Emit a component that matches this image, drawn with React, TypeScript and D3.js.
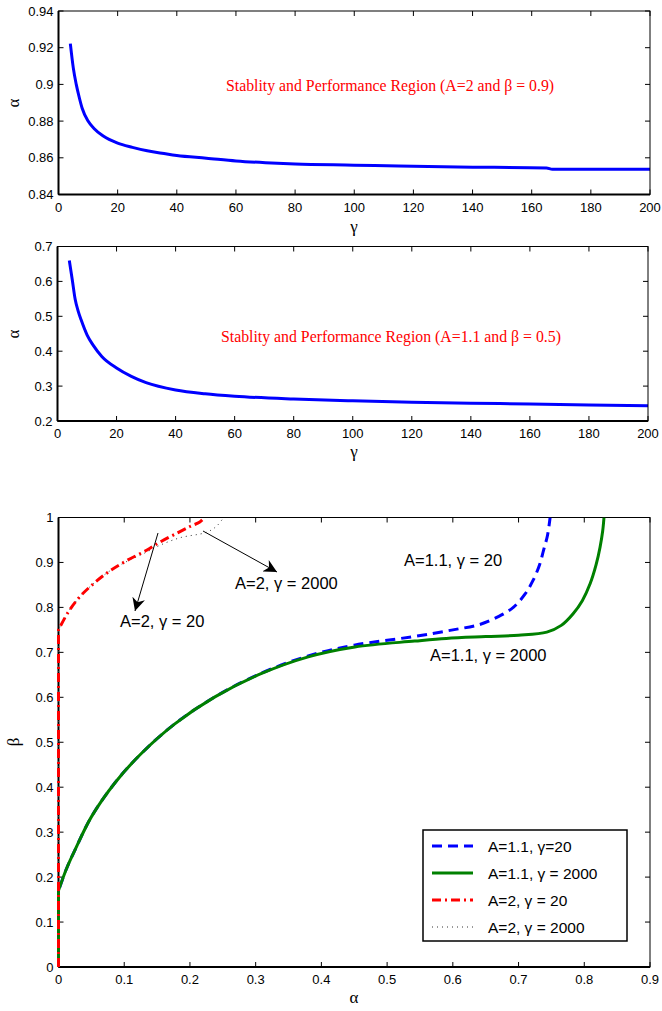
import React from "react";
import * as d3 from "d3";

// ---------- data ----------
const gammaTop: number[] = [4, 5, 6, 7, 8, 10, 12, 15, 20, 25, 30, 35, 40, 50, 60, 70, 80, 100, 115, 135, 165, 167, 200];
const alphaTop: number[] = [0.9222, 0.909, 0.9, 0.893, 0.887, 0.88, 0.876, 0.872, 0.868, 0.8657, 0.8638, 0.8625, 0.8612, 0.8598, 0.8583, 0.8573, 0.8566, 0.856, 0.8555, 0.855, 0.8545, 0.8537, 0.8537];

const gammaMid: number[] = [4, 5, 6, 7, 8, 10, 12, 15, 20, 25, 30, 40, 50, 60, 80, 100, 120, 140, 160, 180, 200];
const alphaMid: number[] = [0.66, 0.605, 0.548, 0.515, 0.49, 0.447, 0.418, 0.385, 0.352, 0.328, 0.31, 0.289, 0.278, 0.271, 0.263, 0.258, 0.254, 0.251, 0.249, 0.246, 0.244];

const a11g20Alpha: number[] = [0, 0, 0.012, 0.025, 0.05, 0.086, 0.126, 0.177, 0.238, 0.309, 0.38, 0.45, 0.54, 0.6, 0.641, 0.67, 0.692, 0.71, 0.722, 0.732, 0.738, 0.744, 0.748];
const a11g20Beta: number[] = [0, 0.17, 0.218, 0.26, 0.334, 0.41, 0.475, 0.541, 0.601, 0.654, 0.692, 0.716, 0.735, 0.75, 0.762, 0.78, 0.8, 0.83, 0.86, 0.895, 0.927, 0.96, 1.0];

const a11g2000Alpha: number[] = [0, 0, 0.012, 0.025, 0.05, 0.086, 0.126, 0.177, 0.238, 0.309, 0.38, 0.451, 0.542, 0.59, 0.65, 0.7, 0.743, 0.765, 0.783, 0.797, 0.809, 0.818, 0.824, 0.828, 0.83];
const a11g2000Beta: number[] = [0, 0.17, 0.218, 0.26, 0.334, 0.41, 0.475, 0.541, 0.601, 0.653, 0.69, 0.712, 0.725, 0.731, 0.735, 0.738, 0.745, 0.76, 0.786, 0.815, 0.853, 0.895, 0.934, 0.97, 1.0];

const a2g20Alpha: number[] = [0, 0, 0.015, 0.032, 0.055, 0.078, 0.105, 0.134, 0.154, 0.18, 0.2, 0.215, 0.222];
const a2g20Beta: number[] = [0, 0.75, 0.79, 0.823, 0.855, 0.881, 0.905, 0.927, 0.945, 0.965, 0.98, 0.99, 1.0];

const a2g2000Alpha: number[] = [0, 0, 0.015, 0.032, 0.055, 0.078, 0.105, 0.134, 0.154, 0.185, 0.225, 0.24, 0.25, 0.252];
const a2g2000Beta: number[] = [0, 0.75, 0.79, 0.823, 0.855, 0.881, 0.903, 0.923, 0.938, 0.955, 0.967, 0.98, 0.997, 1.0];

const gammaTicks: number[] = [0, 20, 40, 60, 80, 100, 120, 140, 160, 180, 200];
const topYTicks: number[] = [0.84, 0.86, 0.88, 0.9, 0.92, 0.94];
const midYTicks: number[] = [0.2, 0.3, 0.4, 0.5, 0.6, 0.7];
const botXTicks: number[] = [0, 0.1, 0.2, 0.3, 0.4, 0.5, 0.6, 0.7, 0.8, 0.9];
const botYTicks: number[] = [0, 0.1, 0.2, 0.3, 0.4, 0.5, 0.6, 0.7, 0.8, 0.9, 1];

const legendLabels: string[] = ["A=1.1, γ=20", "A=1.1, γ = 2000", "A=2, γ = 20", "A=2, γ = 2000"];

const SANS = "'Liberation Sans', Arial, Helvetica, sans-serif";
const SERIF = "'Liberation Serif', 'Times New Roman', serif";

const fmt = (v: number) => String(+v.toFixed(2));

type Box = { x0: number; x1: number; y0: number; y1: number };

function Axes({ box, xs, ys, xTicks, yTicks, id }: { box: Box; xs: d3.ScaleLinear<number, number>; ys: d3.ScaleLinear<number, number>; xTicks: number[]; yTicks: number[]; id: string }) {
  const tl = 5;
  return (
    <g>
      <rect x={box.x0} y={box.y0} width={box.x1 - box.x0} height={box.y1 - box.y0} fill="none" stroke="#000" strokeWidth={1} />
      <line x1={box.x0} x2={box.x1} y1={box.y1} y2={box.y1} stroke="#000" strokeWidth={2} />
      <line x1={box.x0} x2={box.x0} y1={box.y0} y2={box.y1} stroke="#000" strokeWidth={2} />
      {xTicks.map((t) => (
        <g key={id + "x" + t}>
          <line x1={xs(t)} x2={xs(t)} y1={box.y1} y2={box.y1 - tl} stroke="#000" />
          <line x1={xs(t)} x2={xs(t)} y1={box.y0} y2={box.y0 + tl} stroke="#000" />
          <text x={xs(t)} y={box.y1 + 17} textAnchor="middle" fontFamily={SANS} fontSize={13}>{fmt(t)}</text>
        </g>
      ))}
      {yTicks.map((t) => (
        <g key={id + "y" + t}>
          <line x1={box.x0} x2={box.x0 + tl} y1={ys(t)} y2={ys(t)} stroke="#000" />
          <line x1={box.x1} x2={box.x1 - tl} y1={ys(t)} y2={ys(t)} stroke="#000" />
          <text x={box.x0 - 5} y={ys(t) + 4.5} textAnchor="end" fontFamily={SANS} fontSize={13}>{fmt(t)}</text>
        </g>
      ))}
    </g>
  );
}

export default function App() {
  const topBox: Box = { x0: 58.5, x1: 650, y0: 11, y1: 194.5 };
  const midBox: Box = { x0: 57.5, x1: 648, y0: 246.5, y1: 421 };
  const botBox: Box = { x0: 58.5, x1: 650, y0: 517.5, y1: 967 };

  const xTop = d3.scaleLinear().domain([0, 200]).range([topBox.x0, topBox.x1]);
  const yTop = d3.scaleLinear().domain([0.84, 0.94]).range([topBox.y1, topBox.y0]);
  const xMid = d3.scaleLinear().domain([0, 200]).range([midBox.x0, midBox.x1]);
  const yMid = d3.scaleLinear().domain([0.2, 0.7]).range([midBox.y1, midBox.y0]);
  const xBot = d3.scaleLinear().domain([0, 0.9]).range([botBox.x0, botBox.x1]);
  const yBot = d3.scaleLinear().domain([0, 1]).range([botBox.y1, botBox.y0]);

  const lineTop = d3.line<number>().x((_, i) => xTop(gammaTop[i])).y((d) => yTop(d)).curve(d3.curveMonotoneX);
  const lineMid = d3.line<number>().x((_, i) => xMid(gammaMid[i])).y((d) => yMid(d)).curve(d3.curveMonotoneX);
  // vertical segment along alpha = 0 (linear), then the smooth curve part
  const botLine = (xsArr: number[], ysArr: number[]) => {
    const pts: [number, number][] = xsArr.map((a, i) => [xBot(a), yBot(ysArr[i])]);
    const straight = d3.line().curve(d3.curveLinear)(pts.slice(0, 2)) || "";
    const curved = d3.line().curve(d3.curveCatmullRom.alpha(0.5))(pts.slice(1)) || "";
    return straight + curved.replace(/^M[^LC]*/, "");
  };

  const series = [
    { xa: a11g20Alpha, ya: a11g20Beta, color: "#0000ff", w: 3, dash: "10,6" },
    { xa: a11g2000Alpha, ya: a11g2000Beta, color: "#008000", w: 3, dash: "" },
    { xa: a2g20Alpha, ya: a2g20Beta, color: "#ff0000", w: 3, dash: "9,4,2,4" },
    { xa: a2g2000Alpha, ya: a2g2000Beta, color: "#333333", w: 1, dash: "1,4" },
  ];
  const drawOrder = [0, 1, 3, 2];

  return (
    <svg width={662} height={1011} style={{ position: "absolute", left: 0, top: 0, background: "#fff" }}>
      <defs>
        <clipPath id="cTop"><rect x={topBox.x0} y={topBox.y0} width={topBox.x1 - topBox.x0} height={topBox.y1 - topBox.y0} /></clipPath>
        <clipPath id="cMid"><rect x={midBox.x0} y={midBox.y0} width={midBox.x1 - midBox.x0} height={midBox.y1 - midBox.y0} /></clipPath>
        <clipPath id="cBot"><rect x={botBox.x0 - 3} y={botBox.y0} width={botBox.x1 - botBox.x0 + 3} height={botBox.y1 - botBox.y0} /></clipPath>
        <marker id="arr" viewBox="0 0 10 10" refX="10" refY="5" markerWidth="13" markerHeight="13" markerUnits="userSpaceOnUse" orient="auto">
          <path d="M0,0 L10,5 L0,10 L3,5 Z" fill="#000" />
        </marker>
      </defs>
      <rect x={0} y={0} width={662} height={1011} fill="#fff" />

      {/* Top panel */}
      <path d={lineTop(alphaTop) || ""} fill="none" stroke="#0000ff" strokeWidth={3} clipPath="url(#cTop)" />
      <Axes box={topBox} xs={xTop} ys={yTop} xTicks={gammaTicks} yTicks={topYTicks} id="t" />
      <text x={226} y={91} fontFamily={SERIF} fontSize={15.8} fill="#ff0000">Stablity and Performance Region (A=2 and β = 0.9)</text>
      <text x={354} y={232} textAnchor="middle" fontFamily={SERIF} fontSize={17}>γ</text>
      <text transform="translate(19,103) rotate(-90)" textAnchor="middle" fontFamily={SERIF} fontSize={17}>α</text>

      {/* Middle panel */}
      <path d={lineMid(alphaMid) || ""} fill="none" stroke="#0000ff" strokeWidth={3} clipPath="url(#cMid)" />
      <Axes box={midBox} xs={xMid} ys={yMid} xTicks={gammaTicks} yTicks={midYTicks} id="m" />
      <text x={221} y={342} fontFamily={SERIF} fontSize={15.8} fill="#ff0000">Stablity and Performance Region (A=1.1 and β = 0.5)</text>
      <text x={354} y={457} textAnchor="middle" fontFamily={SERIF} fontSize={17}>γ</text>
      <text transform="translate(19,334) rotate(-90)" textAnchor="middle" fontFamily={SERIF} fontSize={17}>α</text>

      {/* Bottom panel */}
      <Axes box={botBox} xs={xBot} ys={yBot} xTicks={botXTicks} yTicks={botYTicks} id="b" />
      <g clipPath="url(#cBot)">
        {drawOrder.map((k) => {
          const s = series[k];
          return <path key={"s" + k} d={botLine(s.xa, s.ya)} fill="none" stroke={s.color} strokeWidth={s.w} strokeDasharray={s.dash || undefined} />;
        })}
      </g>
      <text x={354} y={1003} textAnchor="middle" fontFamily={SERIF} fontSize={17}>α</text>
      <text transform="translate(19,742) rotate(-90)" textAnchor="middle" fontFamily={SERIF} fontSize={17}>β</text>

      {/* annotations */}
      <line x1={158} y1={533} x2={135} y2={611} stroke="#000" strokeWidth={1} markerEnd="url(#arr)" />
      <line x1={203} y1={531} x2={277} y2={572} stroke="#000" strokeWidth={1} markerEnd="url(#arr)" />
      <text x={120} y={627} fontFamily={SANS} fontSize={16.5}>A=2, γ = 20</text>
      <text x={235} y={589} fontFamily={SANS} fontSize={16.5}>A=2, γ = 2000</text>
      <text x={404} y={566} fontFamily={SANS} fontSize={16.5}>A=1.1, γ = 20</text>
      <text x={430} y={661} fontFamily={SANS} fontSize={16.5}>A=1.1, γ = 2000</text>

      {/* legend */}
      <rect x={423} y={830} width={204} height={111} fill="#fff" stroke="#000" strokeWidth={1.5} />
      {[0, 1, 2, 3].map((k, i) => {
        const s = series[k];
        const yy = 846 + i * 27;
        return (
          <g key={"l" + i}>
            <line x1={432} x2={473} y1={yy} y2={yy} stroke={s.color} strokeWidth={s.w} strokeDasharray={s.dash || undefined} />
            <text x={488} y={yy + 5.5} fontFamily={SANS} fontSize={15.5}>{legendLabels[i]}</text>
          </g>
        );
      })}
    </svg>
  );
}
